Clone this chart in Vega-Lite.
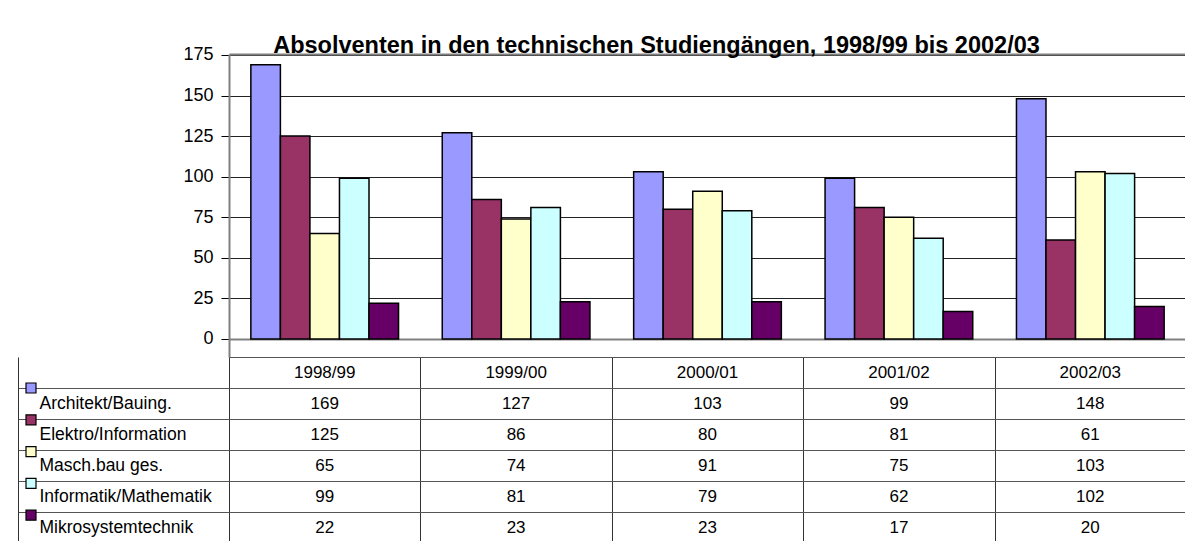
{
  "$schema": "https://vega.github.io/schema/vega-lite/v6.json",
  "padding": {"left": 17, "top": 34, "right": 0, "bottom": 0},
  "bounds": "flush",
  "spacing": 0,
  "background": "white",
  "config": {"font": "Liberation Sans", "view": {"stroke": null}},
  "data": {"values": [
    {"year": "1998/99", "series": "Architekt/Bauing.", "value": 169},
    {"year": "1998/99", "series": "Elektro/Information", "value": 125},
    {"year": "1998/99", "series": "Masch.bau ges.", "value": 65},
    {"year": "1998/99", "series": "Informatik/Mathematik", "value": 99},
    {"year": "1998/99", "series": "Mikrosystemtechnik", "value": 22},
    {"year": "1999/00", "series": "Architekt/Bauing.", "value": 127},
    {"year": "1999/00", "series": "Elektro/Information", "value": 86},
    {"year": "1999/00", "series": "Masch.bau ges.", "value": 74},
    {"year": "1999/00", "series": "Informatik/Mathematik", "value": 81},
    {"year": "1999/00", "series": "Mikrosystemtechnik", "value": 23},
    {"year": "2000/01", "series": "Architekt/Bauing.", "value": 103},
    {"year": "2000/01", "series": "Elektro/Information", "value": 80},
    {"year": "2000/01", "series": "Masch.bau ges.", "value": 91},
    {"year": "2000/01", "series": "Informatik/Mathematik", "value": 79},
    {"year": "2000/01", "series": "Mikrosystemtechnik", "value": 23},
    {"year": "2001/02", "series": "Architekt/Bauing.", "value": 99},
    {"year": "2001/02", "series": "Elektro/Information", "value": 81},
    {"year": "2001/02", "series": "Masch.bau ges.", "value": 75},
    {"year": "2001/02", "series": "Informatik/Mathematik", "value": 62},
    {"year": "2001/02", "series": "Mikrosystemtechnik", "value": 17},
    {"year": "2002/03", "series": "Architekt/Bauing.", "value": 148},
    {"year": "2002/03", "series": "Elektro/Information", "value": 61},
    {"year": "2002/03", "series": "Masch.bau ges.", "value": 103},
    {"year": "2002/03", "series": "Informatik/Mathematik", "value": 102},
    {"year": "2002/03", "series": "Mikrosystemtechnik", "value": 20}
  ]},
  "vconcat": [
    {
      "width": 957,
      "height": 303,
      "title": {
        "text": "Absolventen in den technischen Studiengängen, 1998/99 bis 2002/03",
        "fontSize": 23.5,
        "fontWeight": "bold",
        "color": "black",
        "font": "Liberation Sans",
        "anchor": "middle",
        "dx": -51,
        "baseline": "alphabetic",
        "offset": -31
      },
      "mark": {"type": "bar", "stroke": "black", "strokeWidth": 1.5},
      "encoding": {
        "x": {
          "field": "year", "type": "nominal",
          "scale": {"paddingInner": 0, "paddingOuter": 0},
          "axis": {"orient": "top", "title": null, "labels": false, "ticks": false, "domain": true, "domainColor": "#808080", "domainWidth": 2}
        },
        "xOffset": {
          "field": "series", "type": "nominal",
          "sort": ["Architekt/Bauing.", "Elektro/Information", "Masch.bau ges.", "Informatik/Mathematik", "Mikrosystemtechnik"],
          "scale": {"paddingInner": 0, "paddingOuter": 0.74}
        },
        "y": {
          "field": "value", "type": "quantitative",
          "scale": {"domain": [-11.1, 175.6], "nice": false, "zero": false},
          "axis": {
            "title": null,
            "values": [0, 25, 50, 75, 100, 125, 150, 175],
            "grid": true,
            "gridColor": {"condition": {"test": "datum.value === 0", "value": "#808080"}, "value": "#222222"},
            "gridWidth": {"condition": {"test": "datum.value === 0", "value": 2}, "value": 1},
            "domain": true, "domainColor": "#808080", "domainWidth": 2,
            "ticks": true, "tickSize": 8, "tickColor": "black",
            "labelPadding": 8, "labelFontSize": 18, "labelColor": "black", "labelFont": "Liberation Sans"
          }
        },
        "color": {
          "field": "series", "type": "nominal",
          "scale": {
            "domain": ["Architekt/Bauing.", "Elektro/Information", "Masch.bau ges.", "Informatik/Mathematik", "Mikrosystemtechnik"],
            "range": ["#9999FF", "#993366", "#FFFFCC", "#CCFFFF", "#660066"]
          },
          "legend": {
            "orient": "none", "legendX": -204, "legendY": 328,
            "title": null, "padding": 0, "rowPadding": 15.8,
            "symbolType": "square", "symbolSize": 100,
            "symbolStrokeColor": "black", "symbolStrokeWidth": 1.2, "symbolOpacity": 1,
            "labelExpr": "''", "labelFontSize": 1
          }
        }
      }
    },
    {
      "width": 957,
      "height": 186,
      "resolve": {"scale": {"y": "independent"}, "axis": {"y": "independent"}},
      "layer": [
        {
          "mark": {"type": "text", "fontSize": 17, "font": "Liberation Sans", "color": "black"},
          "encoding": {
            "x": {
              "field": "year", "type": "nominal",
              "scale": {"paddingInner": 0, "paddingOuter": 0},
              "axis": {"orient": "top", "title": null, "labels": false, "ticks": false, "domain": false, "grid": true, "tickBand": "extent", "gridColor": "#333333"}
            },
            "y": {
              "field": "series", "type": "nominal",
              "scale": {"domain": [" ", "Architekt/Bauing.", "Elektro/Information", "Masch.bau ges.", "Informatik/Mathematik", "Mikrosystemtechnik"], "paddingInner": 0, "paddingOuter": 0},
              "axis": {
                "title": null, "orient": "left", "domain": false,
                "tickBand": "extent", "tickSize": 211,
                "tickColor": {"condition": {"test": "datum.value == null", "value": "transparent"}, "value": "#555555"},
                "grid": true, "gridColor": "#555555",
                "labelAlign": "left", "labelPadding": -21, "labelBaseline": "middle",
                "labelFontSize": 17.5, "labelColor": "black", "labelLimit": 300, "labelFont": "Liberation Sans"
              }
            },
            "text": {"field": "value", "type": "quantitative"}
          }
        },
        {
          "transform": [{"filter": "datum.series === 'Architekt/Bauing.'"}],
          "mark": {"type": "text", "fontSize": 17, "font": "Liberation Sans", "color": "black"},
          "encoding": {
            "x": {"field": "year", "type": "nominal"},
            "y": {
              "datum": " ", "type": "nominal",
              "scale": {"domain": [" ", "Architekt/Bauing.", "Elektro/Information", "Masch.bau ges.", "Informatik/Mathematik", "Mikrosystemtechnik"], "paddingInner": 0, "paddingOuter": 0},
              "axis": null
            },
            "text": {"field": "year", "type": "nominal"}
          }
        },
        {
          "transform": [{"filter": "datum.year === '1998/99'"}],
          "mark": {"type": "text", "opacity": 0},
          "encoding": {
            "x": {"field": "year", "type": "nominal"},
            "y": {
              "field": "series", "type": "nominal",
              "scale": {"domain": [" ", "Architekt/Bauing.", "Elektro/Information", "Masch.bau ges.", "Informatik/Mathematik", "Mikrosystemtechnik"], "paddingInner": 0, "paddingOuter": 0},
              "axis": {"orient": "left", "offset": 211, "title": null, "labels": false, "ticks": false, "grid": false, "domain": true, "domainColor": "#333333", "domainWidth": 1}
            },
            "text": {"field": "series", "type": "nominal"}
          }
        }
      ]
    }
  ]
}
